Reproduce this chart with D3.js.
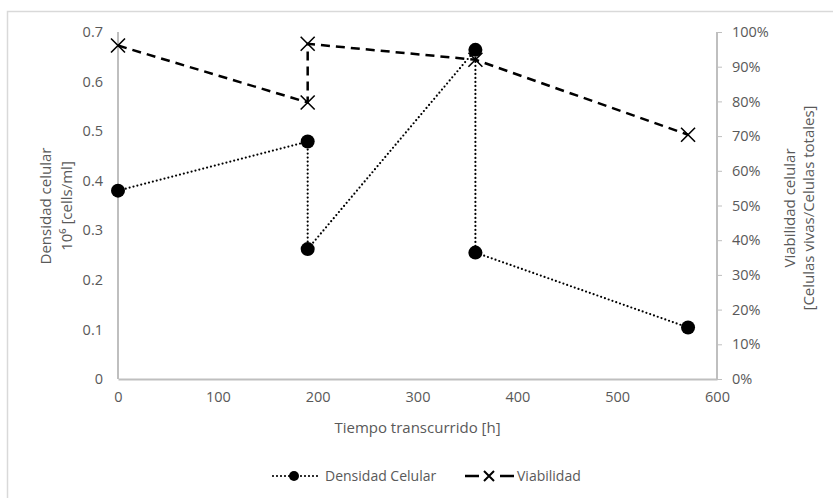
<!DOCTYPE html>
<html>
<head>
<meta charset="utf-8">
<script src="https://cdn.jsdelivr.net/npm/d3@7"></script>
<style>
  body { margin: 0; background: #fff; }
  svg { display: block; font-family: "Open Sans", sans-serif; }
</style>
</head>
<body>
<svg id="chart" width="833" height="498"></svg>
<script>
const densTime = [0, 190, 190, 358, 358, 571];
const densValue = [0.38, 0.479, 0.262, 0.664, 0.255, 0.104];
const viabTime = [0, 190, 190, 358, 571];
const viabValue = [0.961, 0.797, 0.966, 0.92, 0.704];
const xTicks = [0, 100, 200, 300, 400, 500, 600];
const yLeftTicks = [0, 0.1, 0.2, 0.3, 0.4, 0.5, 0.6, 0.7];
const yRightTicks = [0, 0.1, 0.2, 0.3, 0.4, 0.5, 0.6, 0.7, 0.8, 0.9, 1.0];
const xTitle = "Tiempo transcurrido [h]";
const leftTitle = ["Densidad celular", "10\u2076 [cells/ml]"];
const rightTitle = ["Viabilidad celular", "[Celulas vivas/Celulas totales]"];
const legendLabels = ["Densidad Celular", "Viabilidad"];

const svg = d3.select("#chart");
const L = 118, R = 717, T = 32, B = 379;
const gray = "#595959", axisGray = "#bfbfbf";
const FONT = "'Open Sans', sans-serif";

svg.append("rect").attr("x", 7.5).attr("y", 11.5).attr("width", 900).attr("height", 600)
  .attr("fill", "none").attr("stroke", "#d9d9d9").attr("stroke-width", 1.5);

const x = d3.scaleLinear().domain([0, 600]).range([L, R]);
const yL = d3.scaleLinear().domain([0, 0.7]).range([B, T]);
const yR = d3.scaleLinear().domain([0, 1]).range([B, T]);

const gl = svg.append("g").attr("transform", `translate(${L},0)`)
  .call(d3.axisLeft(yL).tickValues(yLeftTicks).tickSize(0).tickPadding(15)
    .tickFormat(d => d === 0 ? "0" : d3.format(".1f")(d)));
const gr = svg.append("g").attr("transform", `translate(${R},0)`)
  .call(d3.axisRight(yR).tickValues(yRightTicks).tickSize(5).tickPadding(10)
    .tickFormat(d3.format(".0%")));
const gb = svg.append("g").attr("transform", `translate(0,${B})`)
  .call(d3.axisBottom(x).tickValues(xTicks).tickSize(0).tickPadding(13)
    .tickFormat(d3.format("d")));

[gl, gr, gb].forEach(g => {
  g.select(".domain").attr("stroke", axisGray).attr("stroke-width", 2);
  g.selectAll(".tick line").attr("stroke", axisGray).attr("stroke-width", 1);
  g.selectAll("text").attr("fill", gray).style("font-size", "14.5px").style("font-family", FONT);
});
gl.select(".domain").attr("d", `M0,${T}V${B}`);
gr.select(".domain").attr("d", `M0,${T}V${B}`);

svg.append("text").attr("x", (L + R) / 2).attr("y", 433).attr("text-anchor", "middle")
  .attr("fill", gray).style("font-size", "15px").text(xTitle);

const lt = svg.append("text").attr("transform", `translate(51,206) rotate(-90)`)
  .attr("text-anchor", "middle").attr("fill", gray).style("font-size", "15px");
lt.append("tspan").attr("x", 0).attr("dy", 0).text(leftTitle[0]);
lt.append("tspan").attr("x", 0).attr("dy", 21).text(leftTitle[1]);

const rt = svg.append("text").attr("transform", `translate(795,208) rotate(-90)`)
  .attr("text-anchor", "middle").attr("fill", gray).style("font-size", "15px");
rt.append("tspan").attr("x", 0).attr("dy", 0).text(rightTitle[0]);
rt.append("tspan").attr("x", 0).attr("dy", 19).text(rightTitle[1]);

const densData = densTime.map((t, i) => [t, densValue[i]]);
const viabData = viabTime.map((t, i) => [t, viabValue[i]]);

svg.append("path").datum(densData)
  .attr("d", d3.line().x(d => x(d[0])).y(d => yL(d[1])))
  .attr("fill", "none").attr("stroke", "#000").attr("stroke-width", 2.2)
  .attr("stroke-dasharray", "0,4").attr("stroke-linecap", "round");

svg.append("path").datum(viabData)
  .attr("d", d3.line().x(d => x(d[0])).y(d => yR(d[1])))
  .attr("fill", "none").attr("stroke", "#000").attr("stroke-width", 2.5)
  .attr("stroke-dasharray", "9,6");

svg.selectAll(".dot").data(densData).enter().append("circle")
  .attr("cx", d => x(d[0])).attr("cy", d => yL(d[1])).attr("r", 7).attr("fill", "#000");

const xs = 7;
svg.selectAll(".cross").data(viabData).enter().append("path")
  .attr("d", d => {
    const cx = x(d[0]), cy = yR(d[1]);
    return `M${cx - xs},${cy - xs}L${cx + xs},${cy + xs}M${cx - xs},${cy + xs}L${cx + xs},${cy - xs}`;
  })
  .attr("stroke", "#000").attr("stroke-width", 1.6).attr("fill", "none");

// legend
const ly = 476;
svg.append("line").attr("x1", 273).attr("x2", 320).attr("y1", ly).attr("y2", ly)
  .attr("stroke", "#000").attr("stroke-width", 2.2).attr("stroke-dasharray", "0,4").attr("stroke-linecap", "round");
svg.append("circle").attr("cx", 294).attr("cy", ly).attr("r", 5).attr("fill", "#000");
svg.append("text").attr("x", 325).attr("y", ly + 5).attr("fill", gray).style("font-size", "14px").text(legendLabels[0]);

svg.append("line").attr("x1", 465).attr("x2", 515).attr("y1", ly).attr("y2", ly)
  .attr("stroke", "#000").attr("stroke-width", 2.5).attr("stroke-dasharray", "14,21");
const lx = 489, ls = 5;
svg.append("path").attr("d", `M${lx - ls},${ly - ls}L${lx + ls},${ly + ls}M${lx - ls},${ly + ls}L${lx + ls},${ly - ls}`)
  .attr("stroke", "#000").attr("stroke-width", 2);
svg.append("text").attr("x", 517).attr("y", ly + 5).attr("fill", gray).style("font-size", "14px").text(legendLabels[1]);
</script>
</body>
</html>
